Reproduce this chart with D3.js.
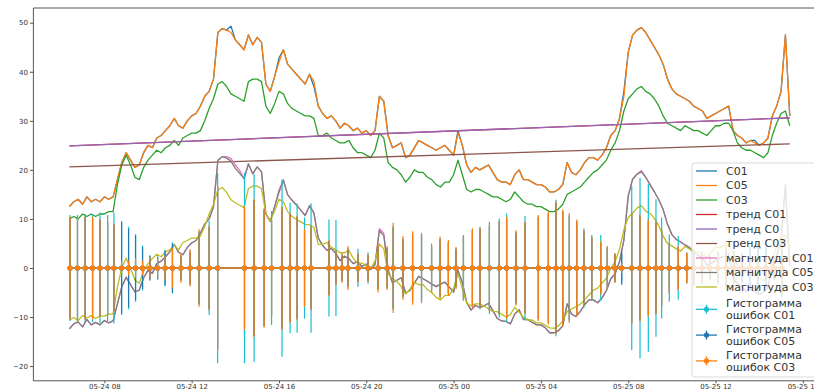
<!DOCTYPE html>
<html><head><meta charset="utf-8">
<script src="https://cdn.jsdelivr.net/npm/d3@7"></script>
<style>body{margin:0;background:#fff} svg{display:block}</style>
</head><body>
<svg id="chart" width="814" height="391"></svg>
<script>
// time grid of the sampled series: hours since 05-24 00:00
const startHour = 6.4, stepHour = 0.2;

const c01 = [12.5,13.5,14.0,13.0,14.5,13.5,14.0,13.5,14.5,14.0,
14.5,18.0,21.5,23.5,22.0,20.5,21.0,23.5,25.0,24.5,
26.5,27.0,28.0,29.0,30.5,29.0,28.5,30.0,31.0,31.5,
33.0,35.0,36.0,38.5,48.0,48.8,48.5,49.3,46.5,45.5,
44.5,47.5,45.5,47.0,46.0,37.5,36.0,39.0,42.8,44.5,
41.5,40.5,39.5,38.5,37.5,39.5,37.0,33.0,31.5,30.5,
31.0,30.0,28.5,29.5,29.0,28.0,28.5,27.5,28.0,27.0,
28.0,35.0,34.0,27.0,24.5,25.0,25.5,22.5,23.0,24.5,
26.0,25.5,25.0,24.5,24.0,24.5,25.0,24.0,23.0,28.0,
25.0,21.0,19.5,20.5,20.0,20.5,21.0,19.5,18.0,17.5,
17.5,17.0,19.0,20.0,18.0,18.0,17.5,17.0,17.0,16.5,
15.5,15.5,16.0,17.0,21.5,19.5,19.0,20.0,21.5,22.5,
22.5,22.0,23.0,24.5,27.0,28.0,30.5,36.0,44.0,47.5,
48.5,49.0,48.0,46.5,45.0,43.5,41.5,38.5,36.5,35.5,
35.0,34.5,34.0,33.0,32.5,32.0,30.5,31.0,31.5,32.0,
32.5,33.0,28.0,27.0,26.5,25.5,26.0,26.0,25.0,25.5,
26.5,31.0,33.0,36.0,47.5,31.0];

const c05 = [12.5,13.5,14.0,13.0,14.5,13.5,14.0,13.5,14.5,14.0,
14.5,18.0,21.5,23.5,22.0,20.5,21.0,23.5,25.0,24.5,
26.5,27.0,28.0,29.0,30.5,29.0,28.5,30.0,31.0,31.5,
33.0,35.0,36.0,38.5,48.0,48.8,48.5,48.0,46.5,45.5,
44.5,47.5,45.5,47.0,46.0,37.5,36.0,39.0,42.0,44.5,
41.5,40.5,39.5,38.5,37.5,39.5,38.0,33.0,31.5,30.5,
31.0,30.0,28.5,29.5,29.0,28.0,28.5,27.5,28.0,27.0,
28.0,35.0,34.0,27.0,24.5,25.0,25.5,22.5,23.0,24.5,
26.0,25.5,25.0,24.5,24.0,24.5,25.0,24.0,23.0,27.5,
25.0,21.0,19.5,20.5,20.0,20.5,21.0,19.5,18.0,17.5,
17.5,17.0,19.0,20.0,18.0,18.0,17.5,17.0,17.0,16.5,
15.5,15.5,16.0,17.0,21.5,19.5,19.0,20.0,21.5,22.5,
22.5,22.0,23.0,24.5,27.0,28.0,30.5,35.0,44.0,47.5,
48.5,49.0,48.0,46.5,45.0,43.5,41.5,38.5,36.5,35.5,
35.0,34.5,34.0,33.0,32.5,32.0,30.5,31.0,31.5,32.0,
32.5,33.0,28.0,27.0,26.5,25.5,26.0,25.5,25.0,25.5,
26.5,31.0,33.0,36.0,47.5,31.0];

const c03 = [10.0,10.5,10.0,11.0,10.5,11.0,10.5,11.0,11.0,11.5,
11.5,17.0,21.0,23.0,21.0,18.5,18.0,20.5,22.0,23.0,
24.0,23.5,24.5,25.0,26.0,25.0,26.5,27.0,27.5,27.5,
28.0,30.0,32.5,34.5,37.5,38.0,37.0,35.5,35.0,34.5,
34.0,38.0,38.5,38.5,38.0,33.0,31.5,33.5,36.0,35.5,
33.5,32.5,32.0,31.5,31.0,31.0,30.5,27.0,27.0,27.5,
26.5,26.0,25.5,25.5,26.0,24.5,23.5,23.5,23.0,22.5,
24.0,27.5,26.5,21.5,20.5,20.0,19.0,17.5,18.5,20.0,
19.5,19.5,18.5,18.0,17.0,16.5,17.5,17.5,19.0,22.0,
19.0,16.0,15.5,16.0,16.0,15.5,15.0,14.5,14.5,14.0,
13.5,14.0,15.5,14.5,13.5,13.0,13.0,12.5,12.5,12.0,
11.5,11.5,12.0,13.0,15.0,15.5,16.0,16.5,17.5,18.5,
19.5,20.0,21.0,22.0,24.0,25.5,28.0,32.0,34.5,35.5,
36.5,37.0,36.0,35.5,34.5,33.0,31.0,29.5,29.0,28.5,
28.0,29.0,28.5,28.0,28.0,27.5,27.0,28.0,29.0,29.0,
29.5,29.5,28.0,25.5,24.5,24.0,24.0,23.5,23.0,22.5,
23.5,27.0,29.5,31.5,32.0,29.0];

// linear trends: values at the first and last hour
const trendHours = [6.4, 39.4];
const trendC01 = [24.9, 30.6];
const trendC05 = [24.9, 30.6];
const trendC03 = [20.6, 25.3];

const magC01 = [-12.4,-11.4,-11.0,-12.0,-10.5,-11.6,-11.1,-11.6,-10.7,-11.2,
-10.8,-7.3,-3.8,-1.9,-3.4,-4.9,-4.5,-2.0,-0.5,-1.1,
0.9,1.4,2.3,3.3,4.8,3.2,2.7,4.2,5.1,5.6,
7.1,9.0,10.0,12.5,21.9,22.7,22.7,22.3,21.0,19.9,
18.2,21.2,19.2,20.6,19.6,11.0,9.5,12.5,15.9,17.9,
14.9,13.8,12.8,11.8,10.7,12.7,11.2,6.1,4.6,3.6,
4.0,3.0,1.5,2.4,1.9,0.9,1.3,0.3,0.8,-0.3,
0.7,8.0,7.1,-0.4,-3.0,-2.5,-2.0,-5.1,-4.6,-3.1,
-1.7,-2.2,-2.7,-3.3,-3.8,-3.3,-2.9,-3.9,-4.9,-0.5,
-3.0,-7.0,-8.6,-7.6,-8.1,-7.7,-7.2,-8.7,-10.3,-10.8,
-10.9,-11.4,-9.4,-8.5,-10.5,-10.5,-11.1,-11.6,-11.6,-12.2,
-13.2,-13.2,-12.8,-11.8,-7.3,-9.4,-9.9,-8.9,-7.5,-6.5,
-6.5,-7.1,-6.1,-4.6,-2.2,-1.2,1.3,5.7,14.7,18.1,
19.1,19.9,18.5,17.0,15.5,13.9,11.9,8.9,6.8,5.8,
5.3,4.7,4.2,3.2,2.6,2.1,0.6,1.0,1.5,2.0,
2.4,2.9,-2.1,-3.2,-3.7,-4.8,-4.3,-4.8,-5.4,-4.9,
-3.9,0.5,2.5,5.5,16.9,0.4];

const magC05 = [-12.4,-11.4,-11.0,-12.0,-10.5,-11.6,-11.1,-11.6,-10.7,-11.2,
-10.8,-7.3,-3.8,-1.9,-3.4,-4.9,-4.5,-2.0,-0.5,-1.1,
0.9,1.4,2.3,3.3,4.8,3.2,2.7,4.2,5.1,5.6,
7.1,9.0,10.0,12.5,21.9,22.7,22.4,21.8,20.3,19.3,
18.2,21.2,19.2,20.6,19.6,11.0,9.5,12.5,15.4,17.9,
14.9,13.8,12.8,11.8,10.7,12.7,11.2,6.1,4.6,3.6,
4.0,3.0,1.5,2.4,1.9,0.9,1.3,0.3,0.8,-0.3,
0.7,7.6,6.6,-0.4,-3.0,-2.5,-2.0,-5.1,-4.6,-3.1,
-1.7,-2.2,-2.7,-3.3,-3.8,-3.3,-2.9,-3.9,-4.9,-0.5,
-3.0,-7.0,-8.6,-7.6,-8.1,-7.7,-7.2,-8.7,-10.3,-10.8,
-10.9,-11.4,-9.4,-8.5,-10.5,-10.5,-11.1,-11.6,-11.6,-12.2,
-13.2,-13.2,-12.8,-11.8,-7.3,-9.4,-9.9,-8.9,-7.5,-6.5,
-6.5,-7.1,-6.1,-4.6,-2.2,-1.2,1.3,5.7,14.7,18.1,
19.1,19.6,18.5,17.0,15.5,13.9,11.9,8.9,6.8,5.8,
5.3,4.7,4.2,3.2,2.6,2.1,0.6,1.0,1.5,2.0,
2.4,2.9,-2.1,-3.2,-3.7,-4.8,-4.3,-4.8,-5.4,-4.9,
-3.9,0.5,2.5,5.5,16.9,0.4];

const magC03 = [-10.6,-10.1,-10.7,-9.7,-10.2,-9.7,-10.3,-9.8,-9.8,-9.4,
-9.4,-3.9,0.1,2.0,0.0,-2.5,-3.1,-0.6,0.9,1.9,
2.8,2.3,3.3,3.7,4.7,3.7,5.2,5.6,6.1,6.1,
6.5,8.5,11.0,13.0,15.9,16.4,15.4,13.9,13.3,12.8,
12.3,16.2,16.7,16.7,16.2,11.1,9.6,11.6,14.0,13.5,
11.5,10.5,9.9,9.4,8.9,8.8,8.3,4.8,4.8,5.2,
4.2,3.7,3.1,3.1,3.6,2.0,1.0,1.0,0.5,-0.1,
1.4,4.9,3.9,-1.2,-2.2,-2.7,-3.8,-5.3,-4.3,-2.9,
-3.4,-3.4,-4.4,-5.0,-6.0,-6.5,-5.6,-5.6,-4.1,-1.1,
-4.2,-7.2,-7.7,-7.3,-7.3,-7.8,-8.3,-8.9,-8.9,-9.4,
-10.0,-9.5,-8.0,-9.0,-10.1,-10.6,-10.6,-11.2,-11.2,-11.7,
-12.2,-12.3,-11.8,-10.8,-8.9,-8.4,-7.9,-7.4,-6.5,-5.5,
-4.5,-4.1,-3.1,-2.1,-0.1,1.3,3.8,7.8,10.3,11.2,
12.2,12.7,11.6,11.1,10.1,8.6,6.5,5.0,4.5,3.9,
3.4,4.4,3.9,3.3,3.3,2.8,2.2,3.2,4.2,4.2,
4.6,4.6,3.1,0.5,-0.5,-1.0,-1.1,-1.6,-2.1,-2.6,
-1.7,1.8,4.3,6.3,6.7,3.7];

// error histogram: sample hours and symmetric error sizes
const errHours = [6.43,6.77,7.12,7.46,7.80,8.15,8.44,8.79,9.11,9.43,
9.75,10.09,10.44,10.78,11.12,11.51,11.93,12.34,12.80,13.19,
14.42,14.86,15.32,15.66,16.14,16.51,16.83,17.17,17.47,18.29,
18.61,18.89,19.16,19.62,20.08,20.54,20.95,21.23,21.68,22.12,
22.53,22.99,23.38,23.76,24.11,24.45,24.86,25.21,25.64,26.09,
26.43,26.86,27.27,27.88,28.34,28.69,29.00,29.30,29.64,29.97,
30.33,30.74,31.04,31.39,31.70,32.16,32.54,32.92,33.27,33.53,
33.88,34.29,34.68,35.01,35.38,35.74,36.11,36.48,36.84,37.21,
37.58,37.94,38.31,38.68,39.04];
const errC01 = [10.8,10.8,11.0,11.0,11.3,10.8,11.3,9.6,8.4,6.9,
4.6,2.6,2.4,3.7,5.2,2.6,3.5,7.5,9.6,19.4,
19.4,19.1,12.0,11.6,18.1,13.3,13.2,10.3,13.2,9.9,
9.8,2.8,4.0,3.9,3.2,4.5,4.2,8.5,6.0,7.0,
6.8,4.6,6.0,5.3,4.0,6.7,7.8,8.4,9.4,10.1,
11.1,7.4,10.6,10.5,11.2,13.9,11.6,10.8,9.6,8.1,
6.7,6.7,4.3,3.0,3.0,16.7,18.4,17.1,14.0,10.3,
6.9,6.5,3.2,3.8,3.4,2.6,3.2,4.0,3.3,3.0,
4.5,5.2,4.5,2.5,6.0];
const errC05 = [10.3,10.3,10.4,10.2,9.8,9.3,8.8,9.3,8.0,6.6,
4.3,2.4,2.2,3.5,5.0,2.4,3.3,7.3,8.4,16.5,
12.4,13.8,11.8,9.7,12.4,11.0,10.4,7.7,8.4,5.5,
3.3,2.6,3.8,2.8,2.6,4.3,4.0,8.3,5.8,6.8,
6.6,4.4,5.8,5.1,3.8,6.3,7.6,8.0,8.6,9.4,
10.2,7.2,9.2,10.3,11.0,13.3,11.4,10.6,9.4,7.5,
6.2,5.2,4.1,2.8,3.4,11.1,10.7,9.7,9.3,7.7,
5.0,4.3,2.9,3.3,2.8,2.3,3.0,3.8,3.1,2.8,
4.3,5.0,4.3,2.3,5.3];
const errC03 = [10.5,10.5,10.6,10.4,10.0,9.5,9.0,1.5,1.5,2.0,
1.5,2.2,2.0,2.5,4.0,3.0,3.8,7.9,8.6,16.7,
12.6,14.0,12.2,9.9,12.6,11.2,10.6,7.9,8.6,5.7,
3.5,3.0,4.5,3.0,2.8,5.0,4.5,9.2,6.5,7.5,
7.2,5.0,6.4,5.7,4.3,6.5,8.1,8.2,8.8,9.6,
10.4,7.7,9.4,10.8,11.5,13.5,11.9,11.2,9.9,7.7,
6.4,5.4,4.5,3.0,1.0,11.3,10.9,9.9,9.5,7.9,
5.2,4.5,3.1,3.5,3.0,2.5,3.5,4.5,3.5,1.5,
1.2,2.0,2.2,2.0,5.5];

const yTicks = [-20,-10,0,10,20,30,40,50];
const xTickHours = [8,12,16,20,24,28,32,36,40];
const xTickLabels = ["05-24 08","05-24 12","05-24 16","05-24 20","05-25 00","05-25 04","05-25 08","05-25 12","05-25 16"];

const legendLabels = ["C01","C05","C03","тренд C01","тренд C0","тренд C03",
  "магнитуда C01","магнитуда C05","магнитуда C03",
  "Гистограмма\nошибок C01","Гистограмма\nошибок C05","Гистограмма\nошибок C03"];
const colors = ["#1f77b4","#ff7f0e","#2ca02c","#d62728","#9467bd","#8c564b",
  "#e377c2","#7f7f7f","#bcbd22","#17becf","#1f77b4","#ff7f0e"];

// ---------- drawing ----------
const svg = d3.select("#chart");
const L = 33.4, R = 825.8, T = 8.0, B = 380.8;
const x = d3.scaleLinear().domain([4.75, 41.05]).range([L, R]);
const y = d3.scaleLinear().domain([-23, 53]).range([B, T]);
const FONT = "DejaVu Sans, sans-serif";
const LW = 1.3;

svg.append("defs").append("clipPath").attr("id","plot")
  .append("rect").attr("x",L).attr("y",T).attr("width",R-L).attr("height",B-T);

const plot = svg.append("g").attr("clip-path","url(#plot)");

const seriesLine = d3.line().x((d,i)=>x(startHour + i*stepHour)).y(d=>y(d));
const trendLine = d3.line().x((d,i)=>x(trendHours[i])).y(d=>y(d));

function drawSeries(arr, color){
  plot.append("path").attr("d", seriesLine(arr)).attr("fill","none")
    .attr("stroke", color).attr("stroke-width", LW).attr("stroke-linejoin","round");
}
function drawTrend(arr, color){
  plot.append("path").attr("d", trendLine(arr)).attr("fill","none")
    .attr("stroke", color).attr("stroke-width", LW);
}
function drawErr(errs, color){
  const g = plot.append("g");
  g.selectAll("line.bar").data(errs).join("line").attr("class","bar")
    .attr("x1",(d,i)=>x(errHours[i])).attr("x2",(d,i)=>x(errHours[i]))
    .attr("y1",d=>y(-d)).attr("y2",d=>y(d))
    .attr("stroke",color).attr("stroke-width",1.2);
  g.append("path").attr("d", d3.line().x(d=>x(d)).y(()=>y(0))(errHours))
    .attr("fill","none").attr("stroke",color).attr("stroke-width",LW);
  g.selectAll("circle").data(errHours).join("circle")
    .attr("cx",d=>x(d)).attr("cy",y(0)).attr("r",2.6).attr("fill",color);
}

drawSeries(c01, colors[0]);
drawSeries(c05, colors[1]);
drawSeries(c03, colors[2]);
drawTrend(trendC01, colors[3]);
drawTrend(trendC05, colors[4]);
drawTrend(trendC03, colors[5]);
drawSeries(magC01, colors[6]);
drawSeries(magC05, colors[7]);
drawSeries(magC03, colors[8]);
drawErr(errC01, colors[9]);
drawErr(errC05, colors[10]);
drawErr(errC03, colors[11]);

// axes
const xAxis = d3.axisBottom(x).tickValues(xTickHours)
  .tickFormat((d,i)=>xTickLabels[i]).tickSize(2.5).tickPadding(0.5);
const yAxis = d3.axisLeft(y).tickValues(yTicks)
  .tickFormat(d=> d<0 ? "\u2212"+Math.abs(d) : String(d)).tickSize(3.5).tickPadding(2);

const gx = svg.append("g").attr("transform",`translate(0,${B})`).call(xAxis);
const gy = svg.append("g").attr("transform",`translate(${L},0)`).call(yAxis);
[gx, gy].forEach(g=>{
  g.select(".domain").remove();
  g.selectAll(".tick line").attr("stroke","#444").attr("stroke-width",0.9);
  g.selectAll(".tick text").attr("fill","#333").style("font-family",FONT).style("font-size","7px");
});

// spines
svg.append("path")
  .attr("d",`M${R},${T}H${L}V${B}H${R}`)
  .attr("fill","none").attr("stroke","#444").attr("stroke-width",0.9);

// legend
const lg = svg.append("g");
lg.append("rect").attr("x",692).attr("y",163).attr("width",140).attr("height",214)
  .attr("rx",3).attr("fill","#fff").attr("fill-opacity",0.8)
  .attr("stroke","#ccc").attr("stroke-opacity",0.8).attr("stroke-width",0.9);

let yy = 171;
legendLabels.forEach((lab, i)=>{
  const lines = lab.split("\n");
  let cy;
  if (lines.length === 1){ cy = yy; yy += 14.5; }
  else { if (i===9) yy += 7.8; cy = yy; yy += 25.8; }
  const c = colors[i];
  lg.append("line").attr("x1",696).attr("x2",717).attr("y1",cy).attr("y2",cy)
    .attr("stroke",c).attr("stroke-width",LW);
  if (i >= 9){
    lg.append("line").attr("x1",706.5).attr("x2",706.5).attr("y1",cy-4.5).attr("y2",cy+4.5)
      .attr("stroke",c).attr("stroke-width",LW);
    lg.append("circle").attr("cx",706.5).attr("cy",cy).attr("r",2.6).attr("fill",c);
  }
  const t = lg.append("text").attr("x",726).attr("fill","#333")
    .style("font-family",FONT).style("font-size","11px");
  if (lines.length === 1){
    t.attr("y",cy).attr("dy","0.35em").text(lab);
  } else {
    t.append("tspan").attr("x",726).attr("y",cy-5.8).attr("dy","0.35em").text(lines[0]);
    t.append("tspan").attr("x",726).attr("y",cy+6.0).attr("dy","0.35em").text(lines[1]);
  }
});
</script>
</body></html>
